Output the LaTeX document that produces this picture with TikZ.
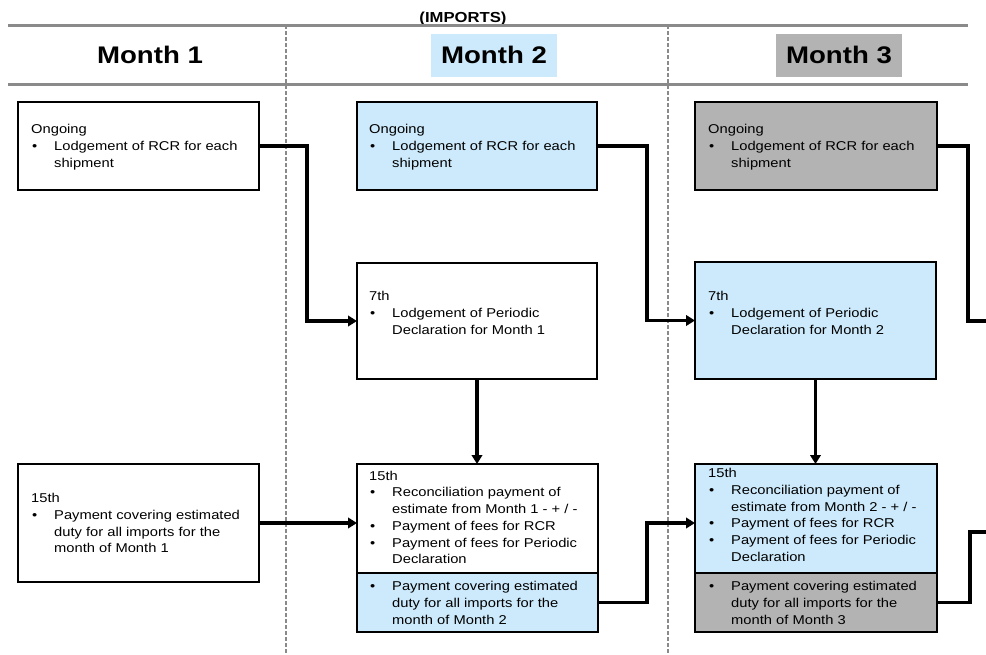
\documentclass[tikz,border=0pt]{standalone}
\usepackage{fontspec}
\setmainfont{Liberation Sans}[FakeStretch=1.15]
\usetikzlibrary{arrows.meta}
\definecolor{lblue}{HTML}{CCEAFB}
\definecolor{mgray}{HTML}{B3B3B3}
\definecolor{rulegray}{HTML}{8A8A8A}
\newcommand{\bl}{\makebox[23pt][l]{\hspace{1pt}\textbullet}}
\newcommand{\ind}{\hspace*{23pt}}
\begin{document}
\begin{tikzpicture}[x=1pt,y=-1pt,
 box/.style={draw=black, line width=2.4pt, anchor=north west, inner sep=0pt, outer sep=0pt},
 txt/.style={anchor=north west, inner sep=0pt, align=left, font=\fontsize{12.8}{16.7}\selectfont},
 conn/.style={line width=3.3pt, line join=miter},
 arr/.style={conn, -{Triangle[length=9pt,width=10.5pt]}},
 title/.style={font=\fontsize{24}{28}\selectfont\bfseries, inner sep=0pt},
 rulel/.style={draw=rulegray, line width=3pt},
 dashl/.style={draw=rulegray, line width=1.6pt, dash pattern=on 4pt off 2pt},
]
\useasboundingbox (0,0) rectangle (986,654);

% header
\node[font=\fontsize{14.5}{16}\selectfont\bfseries, anchor=base, inner sep=0pt] (imp) at (463,22) {(IMPORTS)};
\draw[rulel] (8,25) -- (968,25);
\draw[rulel] (8,84) -- (968,84);
\draw[dashl] (286,25) -- (286,654);
\draw[dashl] (668,25) -- (668,654);
\node[title] (M1) at (150,55) {Month 1};
\node[title, fill=lblue, minimum width=126pt, minimum height=43pt] (M2) at (494,55) {Month 2};
\node[title, fill=mgray, minimum width=126pt, minimum height=43pt] (M3) at (839,55) {Month 3};

% boxes
\node[box, minimum width=241pt, minimum height=88pt] (A1) at (18,102) {};
\node[box, fill=lblue, minimum width=240pt, minimum height=88pt] (B1) at (357,102) {};
\node[box, fill=mgray, minimum width=242pt, minimum height=88pt] (C1) at (695,102) {};
\node[box, minimum width=240pt, minimum height=116pt] (B2) at (357,263) {};
\node[box, fill=lblue, minimum width=241pt, minimum height=117pt] (C2) at (695,262) {};
\node[box, minimum width=241pt, minimum height=118pt] (A3) at (18,464) {};
\node[box, minimum width=241pt, minimum height=109pt] (B3) at (357,464) {};
\node[box, fill=lblue, minimum width=241pt, minimum height=59pt] (B3b) at (357,573) {};
\node[box, fill=lblue, minimum width=242pt, minimum height=109pt] (C3) at (695,464) {};
\node[box, fill=mgray, minimum width=242pt, minimum height=59pt] (C3b) at (695,573) {};

% texts
\node[txt] (A1t) at (31,124.3) {Ongoing\\\bl Lodgement of RCR for each\\\ind shipment};
\node[txt] (B1t) at (369,124.3) {Ongoing\\\bl Lodgement of RCR for each\\\ind shipment};
\node[txt] (C1t) at (708,124.3) {Ongoing\\\bl Lodgement of RCR for each\\\ind shipment};
\node[txt] (B2t) at (369,291.3) {7th\\\bl Lodgement of Periodic\\\ind Declaration for Month 1};
\node[txt] (C2t) at (708,291.3) {7th\\\bl Lodgement of Periodic\\\ind Declaration for Month 2};
\node[txt] (A3t) at (31,493.3) {15th\\\bl Payment covering estimated\\\ind duty for all imports for the\\\ind month of Month 1};
\node[txt] (B3t) at (369,470.8) {15th\\\bl Reconciliation payment of\\\ind estimate from Month 1 - + / -\\\bl Payment of fees for RCR\\\bl Payment of fees for Periodic\\\ind Declaration};
\node[txt] (B3bt) at (369,581.3) {\bl Payment covering estimated\\\ind duty for all imports for the\\\ind month of Month 2};
\node[txt] (C3t) at (708,468.3) {15th\\\bl Reconciliation payment of\\\ind estimate from Month 2 - + / -\\\bl Payment of fees for RCR\\\bl Payment of fees for Periodic\\\ind Declaration};
\node[txt] (C3bt) at (708,581.3) {\bl Payment covering estimated\\\ind duty for all imports for the\\\ind month of Month 3};

% connectors
\coordinate (e1) at (986,321);
\coordinate (e2) at (986,532);
\draw[arr] (A1.east) -- ++(48,0) |- (B2.west);
\draw[arr] (B1.east) -- ++(50,0) |- (C2.west);
\draw[conn] (C1.east) -- ++(31,0) |- (e1);
\draw[arr] (A3.east) -- (A3.east -| B3.west);
\draw[arr] (B3b.east) -- ++(49,0) |- (C3.west |- A3.east);
\draw[conn] (C3b.east) -- ++(33,0) |- (e2);
\draw[arr] (B2.south) -- (B2.south |- B3.north);
\draw[arr] (C2.south) -- (C2.south |- C3.north);
\end{tikzpicture}
\end{document}
